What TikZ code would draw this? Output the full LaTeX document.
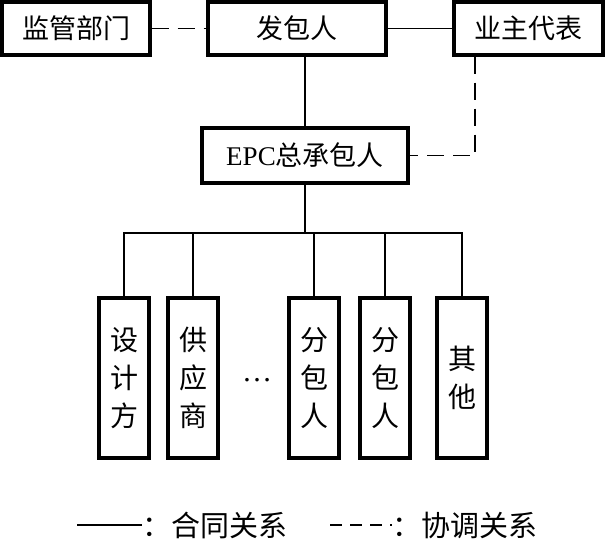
\documentclass[tikz,border=0pt]{standalone}
\usepackage{fontspec}
\setmainfont{Liberation Serif}
\newfontfamily\cjk{Noto Sans CJK SC}
\begin{document}
\begin{tikzpicture}[x=1pt,y=-1pt,
  topbox/.style={draw,line width=3.4pt,minimum height=53pt,inner sep=0pt,font=\cjk\fontsize{27}{32}\selectfont},
  vbox/.style={draw,line width=3.4pt,minimum width=50pt,minimum height=160pt,inner sep=0pt,align=center,font=\cjk\fontsize{28}{38}\selectfont},
  conn/.style={line width=1.5pt},
  coord/.style={line width=1.5pt,dash pattern=on 17pt off 9pt},
  legtext/.style={anchor=west,inner sep=0pt,font=\cjk\fontsize{29}{32}\selectfont}]
\useasboundingbox (0,0) rectangle (605,546);
\node[topbox,minimum width=148pt] (jg) at (76,28.5) {监管部门};
\node[topbox,minimum width=178pt] (fb) at (297,28.5) {发包人};
\node[topbox,minimum width=149pt] (yz) at (528.5,28.5) {业主代表};
\node[topbox,minimum width=206pt,minimum height=55pt] (epc) at (305,155.5) {{\fontspec{Liberation Serif}EPC}总承包人};
\node[vbox] (b1) at (124,378) {设\\计\\方};
\node[vbox] (b2) at (193,378) {供\\应\\商};
\node[vbox] (b3) at (314,378) {分\\包\\人};
\node[vbox] (b4) at (385,378) {分\\包\\人};
\node[vbox] (b5) at (462,378) {其\\他};
\node[font=\fontsize{30}{30}\selectfont,inner sep=0pt] (dots) at (257,380) {…};
\coordinate (bus) at (305,233);
\coordinate (yzd) at (475,55);
\draw[coord] (jg.east) -- (fb.west);
\draw[conn] (fb.south -| epc.north) -- (epc.north);
\draw[conn] (fb.east) -- (yz.west);
\draw[coord] (yz.south -| yzd) |- (epc.east);
\draw[conn] (epc.south) -- (bus);
\draw[conn] (b1.north) -- (b1.north |- bus) -- (b5.north |- bus) -- (b5.north);
\foreach \b in {b2,b3,b4} \draw[conn] (\b.north) -- (\b.north |- bus);
% legend
\coordinate (la) at (77,525);
\coordinate (lb) at (142,525);
\coordinate (lc) at (330,525);
\coordinate (ld) at (392,525);
\draw[line width=1.3pt] (la) -- (lb);
\node[legtext] (t1) at (lb) {：合同关系};
\draw[line width=1.3pt,dash pattern=on 12pt off 8pt] (lc) -- (ld);
\node[legtext] (t2) at (ld) {：协调关系};
\end{tikzpicture}
\end{document}
